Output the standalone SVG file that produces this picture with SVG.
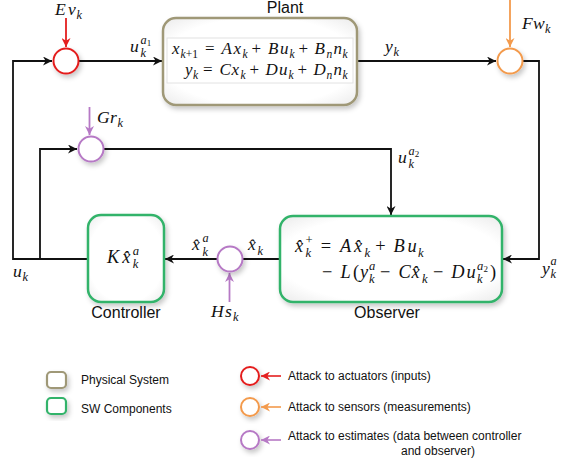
<svg xmlns="http://www.w3.org/2000/svg" width="565" height="461" viewBox="0 0 565 461">
<defs>
<style>
.ln{fill:none;stroke:#111;stroke-width:1.8}
.m{font-family:'Liberation Serif',serif;font-style:italic;fill:#111}
.n{font-style:normal}
.sf{font-family:'Liberation Sans',Arial,sans-serif;fill:#111}
.lg{font-size:12px}
.box{fill:url(#bg);stroke-width:2.5}
.phys{stroke:#9f9877}
.sw{stroke:#33b36a}
.att{fill:#fff;stroke-width:2}
.red{stroke:#e41f1f}
.org{stroke:#f39a4c}
.pur{stroke:#b679c5}
</style>
<radialGradient id="bg" cx="50%" cy="50%" r="72%">
<stop offset="0.7" stop-color="#ffffff"/>
<stop offset="1" stop-color="#e9e9e9"/>
</radialGradient>
<filter id="sh" x="-40%" y="-40%" width="180%" height="180%">
<feDropShadow dx="2" dy="3" stdDeviation="2.5" flood-color="#000" flood-opacity="0.22"/>
</filter>
<marker id="ak" viewBox="0 0 10 10" refX="10" refY="5" markerWidth="9" markerHeight="9" markerUnits="userSpaceOnUse" orient="auto"><path d="M0,0 L10,5 L0,10 L3,5 z" fill="#111"/></marker>
<marker id="ar" viewBox="0 0 10 10" refX="10" refY="5" markerWidth="9" markerHeight="9" markerUnits="userSpaceOnUse" orient="auto"><path d="M0,0 L10,5 L0,10 L3,5 z" fill="#e41f1f"/></marker>
<marker id="ao" viewBox="0 0 10 10" refX="10" refY="5" markerWidth="9" markerHeight="9" markerUnits="userSpaceOnUse" orient="auto"><path d="M0,0 L10,5 L0,10 L3,5 z" fill="#f39a4c"/></marker>
<marker id="ap" viewBox="0 0 10 10" refX="10" refY="5" markerWidth="9" markerHeight="9" markerUnits="userSpaceOnUse" orient="auto"><path d="M0,0 L10,5 L0,10 L3,5 z" fill="#b679c5"/></marker>
</defs>
<rect width="565" height="461" fill="#fff"/>

<g id="connectors">
<path class="ln" d="M88,259 H13 V61 H52" marker-end="url(#ak)"/>
<path class="ln" d="M40,259 V149 H77" marker-end="url(#ak)"/>
<path class="ln" d="M79,61 H162" marker-end="url(#ak)"/>
<path class="ln" d="M357,61 H496" marker-end="url(#ak)"/>
<path class="ln" d="M523,61 H539 V259 H503" marker-end="url(#ak)"/>
<path class="ln" d="M103,149 H391 V215" marker-end="url(#ak)"/>
<path class="ln" d="M280,259 H243"/>
<path class="ln" d="M217,259 H165" marker-end="url(#ak)"/>
<path fill="none" stroke="#e41f1f" stroke-width="1.8" d="M66,18 V47" marker-end="url(#ar)"/>
<path fill="none" stroke="#f39a4c" stroke-width="1.8" d="M510,0 V47" marker-end="url(#ao)"/>
<path fill="none" stroke="#b679c5" stroke-width="1.8" d="M89.5,107 V135" marker-end="url(#ap)"/>
<path fill="none" stroke="#b679c5" stroke-width="1.8" d="M229.5,302 V273" marker-end="url(#ap)"/>
</g>

<g id="plant">
<rect class="box phys" x="163" y="18" width="194" height="87" rx="13" filter="url(#sh)"/>
<rect x="167" y="38" width="186" height="45" fill="#fff" stroke="#e2e2e2" stroke-width="1"/>
<text class="sf" x="285" y="13" font-size="16" text-anchor="middle">Plant</text>
<text class="m" font-size="17"><tspan x="172" y="54">x</tspan><tspan x="180.5" y="57.5" font-size="11.5">k</tspan><tspan x="185.8" y="57.5" font-size="11.5" class="n">+1</tspan><tspan x="205" y="54" class="n">=</tspan><tspan x="221.5" y="54">A</tspan><tspan x="233.5" y="54">x</tspan><tspan x="242.5" y="57.5" font-size="11.5">k</tspan><tspan x="251.5" y="54" class="n">+</tspan><tspan x="268" y="54">B</tspan><tspan x="280" y="54">u</tspan><tspan x="289.5" y="57.5" font-size="11.5">k</tspan><tspan x="298.5" y="54" class="n">+</tspan><tspan x="314.5" y="54">B</tspan><tspan x="326.5" y="57.5" font-size="11.5">n</tspan><tspan x="333.5" y="54">n</tspan><tspan x="342.5" y="57.5" font-size="11.5">k</tspan></text>
<text class="m" font-size="17"><tspan x="185" y="75">y</tspan><tspan x="193" y="78.5" font-size="11.5">k</tspan><tspan x="203" y="75" class="n">=</tspan><tspan x="219.5" y="75">C</tspan><tspan x="231.5" y="75">x</tspan><tspan x="240.5" y="78.5" font-size="11.5">k</tspan><tspan x="249.5" y="75" class="n">+</tspan><tspan x="265.5" y="75">D</tspan><tspan x="279" y="75">u</tspan><tspan x="288.5" y="78.5" font-size="11.5">k</tspan><tspan x="297.5" y="75" class="n">+</tspan><tspan x="313.5" y="75">D</tspan><tspan x="326.5" y="78.5" font-size="11.5">n</tspan><tspan x="333.5" y="75">n</tspan><tspan x="342.5" y="78.5" font-size="11.5">k</tspan></text>
</g>

<g id="controller">
<rect class="box sw" x="88" y="215" width="76" height="87" rx="13" filter="url(#sh)"/>
<text class="m" font-size="18.4"><tspan x="107" y="263">K</tspan><tspan x="122.3" y="263">x̂</tspan><tspan x="132.8" y="255" font-size="12.6">a</tspan><tspan x="132.8" y="268" font-size="12.6">k</tspan></text>
<text class="sf" x="126" y="318" font-size="16" text-anchor="middle">Controller</text>
</g>

<g id="observer">
<rect class="box sw" x="280" y="216" width="222" height="86" rx="13" filter="url(#sh)"/>
<text class="m" font-size="18.4"><tspan x="295" y="252">x̂</tspan><tspan x="305.5" y="243.5" font-size="12.6" class="n">+</tspan><tspan x="305.5" y="257" font-size="12.6">k</tspan><tspan x="320.7" y="252" class="n">=</tspan><tspan x="340.1" y="252">A</tspan><tspan x="353.9" y="252">x̂</tspan><tspan x="364.4" y="257" font-size="12.6">k</tspan><tspan x="375.2" y="252" class="n">+</tspan><tspan x="393.6" y="252">B</tspan><tspan x="407.6" y="252">u</tspan><tspan x="418.1" y="257" font-size="12.6">k</tspan></text>
<text class="m" font-size="18.4"><tspan x="322" y="278" class="n">−</tspan><tspan x="340.4" y="278">L</tspan><tspan x="352.9" y="278" class="n">(</tspan><tspan x="360.1" y="278">y</tspan><tspan x="369.1" y="270" font-size="12.6">a</tspan><tspan x="369.1" y="283" font-size="12.6">k</tspan><tspan x="380" y="278" class="n">−</tspan><tspan x="398.4" y="278">C</tspan><tspan x="411.6" y="278">x̂</tspan><tspan x="422.1" y="283" font-size="12.6">k</tspan><tspan x="432.9" y="278" class="n">−</tspan><tspan x="451.3" y="278">D</tspan><tspan x="466.5" y="278">u</tspan><tspan x="477" y="270" font-size="12.6">a</tspan><tspan x="483.6" y="272" font-size="9" class="n">2</tspan><tspan x="477" y="283" font-size="12.6">k</tspan><tspan x="490" y="278" class="n">)</tspan></text>
<text class="sf" x="387" y="318" font-size="16" text-anchor="middle">Observer</text>
</g>

<g id="attack-ev">
<circle class="att red" cx="66" cy="61" r="12.5" filter="url(#sh)"/>
<text class="m" font-size="17.6"><tspan x="55" y="15">E</tspan><tspan x="68" y="15">v</tspan><tspan x="76.5" y="18.5" font-size="12.3">k</tspan></text>
</g>

<g id="attack-fw">
<circle class="att org" cx="510" cy="61" r="12.5" filter="url(#sh)"/>
<text class="m" font-size="17.6"><tspan x="522" y="29">F</tspan><tspan x="533" y="29">w</tspan><tspan x="545" y="33" font-size="12.3">k</tspan></text>
</g>

<g id="attack-gr">
<circle class="att pur" cx="91" cy="149" r="12.5" filter="url(#sh)"/>
<text class="m" font-size="17.6"><tspan x="97" y="123">G</tspan><tspan x="110" y="123">r</tspan><tspan x="117.5" y="127" font-size="12.3">k</tspan></text>
</g>

<g id="attack-hs">
<circle class="att pur" cx="230" cy="259" r="12.5" filter="url(#sh)"/>
<text class="m" font-size="17.6"><tspan x="211" y="317">H</tspan><tspan x="225" y="317">s</tspan><tspan x="233" y="321" font-size="12.3">k</tspan></text>
</g>

<g id="labels">
<text class="m" font-size="17.6"><tspan x="130" y="52">u</tspan><tspan x="140.5" y="44" font-size="12.3">a</tspan><tspan x="146.8" y="46" font-size="9" class="n">1</tspan><tspan x="140.5" y="57" font-size="12.3">k</tspan></text>
<text class="m" font-size="17.6"><tspan x="385" y="52">y</tspan><tspan x="393.5" y="56" font-size="12.3">k</tspan></text>
<text class="m" font-size="17.6"><tspan x="398" y="163">u</tspan><tspan x="408.5" y="155" font-size="12.3">a</tspan><tspan x="414.8" y="157" font-size="9" class="n">2</tspan><tspan x="408.5" y="168" font-size="12.3">k</tspan></text>
<text class="m" font-size="17.6"><tspan x="192" y="250">x̂</tspan><tspan x="202.5" y="242" font-size="12.3">a</tspan><tspan x="202.5" y="256" font-size="12.3">k</tspan></text>
<text class="m" font-size="17.6"><tspan x="248" y="250">x̂</tspan><tspan x="257.5" y="255" font-size="12.3">k</tspan></text>
<text class="m" font-size="17.6"><tspan x="13" y="277">u</tspan><tspan x="22.5" y="281" font-size="12.3">k</tspan></text>
<text class="m" font-size="17.6"><tspan x="542" y="274">y</tspan><tspan x="550.5" y="265" font-size="12.3">a</tspan><tspan x="550.5" y="278" font-size="12.3">k</tspan></text>
</g>

<g id="legend">
<rect x="47" y="372" width="19" height="16" rx="4" fill="#fff" stroke="#9f9877" stroke-width="2.2" filter="url(#sh)"/>
<text class="sf lg" x="81" y="384">Physical System</text>
<rect x="47" y="398" width="19" height="16" rx="4" fill="#fff" stroke="#33b36a" stroke-width="2.2" filter="url(#sh)"/>
<text class="sf lg" x="81" y="413">SW Components</text>
<circle class="att red" cx="250" cy="376" r="9" filter="url(#sh)"/>
<path fill="none" stroke="#e41f1f" stroke-width="1.6" d="M281,376 H261" marker-end="url(#ar)"/>
<text class="sf lg" x="288" y="380">Attack to actuators (inputs)</text>
<circle class="att org" cx="250" cy="407" r="9" filter="url(#sh)"/>
<path fill="none" stroke="#f39a4c" stroke-width="1.6" d="M281,407 H261" marker-end="url(#ao)"/>
<text class="sf lg" x="288" y="411">Attack to sensors (measurements)</text>
<circle class="att pur" cx="250" cy="440" r="9" filter="url(#sh)"/>
<path fill="none" stroke="#b679c5" stroke-width="1.6" d="M281,440 H261" marker-end="url(#ap)"/>
<text class="sf lg" x="288" y="440">Attack to estimates (data between controller</text>
<text class="sf lg" x="438" y="455" text-anchor="middle">and observer)</text>
</g>
</svg>
